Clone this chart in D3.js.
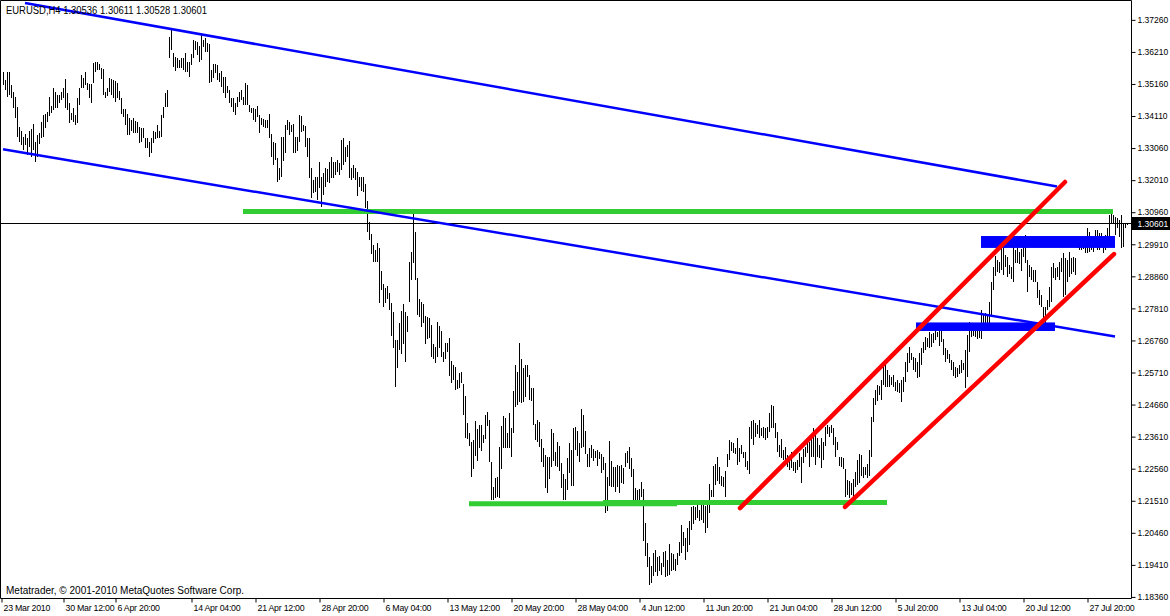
<!DOCTYPE html>
<html>
<head>
<meta charset="utf-8">
<title>EURUSD,H4</title>
<script src="https://d3js.org/d3.v7.min.js"></script>
<style>
  body { margin: 0; background: #fff; }
  svg text { font-family: "Liberation Sans", Arial, sans-serif; }
</style>
</head>
<body>
<div id="chart"></div>
<script>
// H4 bars, high / low (one value per bar, left to right)
var highs = [
1.3555,1.3529,1.3555,1.3555,1.3513,1.3490,1.3473,1.3440,1.3375,1.3362,
1.3342,1.3352,1.3339,1.3362,1.3368,1.3385,1.3326,1.3349,1.3355,1.3391,
1.3414,1.3418,1.3424,1.3473,1.3444,1.3503,1.3490,1.3480,1.3480,1.3490,
1.3503,1.3532,1.3486,1.3454,1.3421,1.3437,1.3414,1.3470,1.3503,1.3545,
1.3536,1.3555,1.3519,1.3516,1.3516,1.3585,1.3588,1.3588,1.3581,1.3568,
1.3565,1.3490,1.3503,1.3536,1.3532,1.3529,1.3526,1.3519,1.3493,1.3470,
1.3434,1.3434,1.3418,1.3404,1.3398,1.3404,1.3395,1.3391,1.3375,1.3372,
1.3372,1.3339,1.3339,1.3326,1.3339,1.3362,1.3359,1.3382,1.3362,1.3414,
1.3440,1.3486,1.3496,1.3670,1.3693,1.3617,1.3604,1.3601,1.3594,1.3601,
1.3601,1.3617,1.3588,1.3588,1.3614,1.3660,1.3657,1.3653,1.3640,1.3676,
1.3660,1.3666,1.3650,1.3647,1.3562,1.3581,1.3581,1.3578,1.3552,1.3558,
1.3539,1.3539,1.3509,1.3496,1.3470,1.3470,1.3454,1.3473,1.3490,1.3496,
1.3473,1.3519,1.3513,1.3447,1.3437,1.3437,1.3434,1.3444,1.3414,1.3404,
1.3401,1.3398,1.3398,1.3418,1.3352,1.3326,1.3323,1.3274,1.3241,1.3342,
1.3342,1.3382,1.3398,1.3391,1.3382,1.3385,1.3342,1.3342,1.3414,1.3411,
1.3382,1.3378,1.3339,1.3339,1.3241,1.3201,1.3211,1.3211,1.3260,1.3211,
1.3224,1.3241,1.3237,1.3260,1.3277,1.3260,1.3260,1.3267,1.3257,1.3332,
1.3339,1.3310,1.3316,1.3329,1.3241,1.3251,1.3241,1.3228,1.3211,1.3211,
1.3211,1.3188,1.3133,1.3064,1.3025,1.2989,1.2972,1.2995,1.2979,1.2903,
1.2861,1.2848,1.2854,1.2831,1.2799,1.2769,1.2677,1.2677,1.2733,1.2772,
1.2795,1.2769,1.2756,1.2933,1.2966,1.3093,1.3031,1.2880,1.2812,1.2802,
1.2795,1.2756,1.2753,1.2750,1.2727,1.2664,1.2655,1.2736,1.2723,1.2707,
1.2638,1.2668,1.2668,1.2684,1.2609,1.2596,1.2589,1.2546,1.2569,1.2573,
1.2533,1.2494,1.2406,1.2373,1.2343,1.2350,1.2412,1.2386,1.2399,1.2399,
1.2366,1.2432,1.2442,1.2415,1.2278,1.2196,1.2225,1.2229,1.2327,1.2396,
1.2429,1.2422,1.2373,1.2438,1.2389,1.2510,1.2595,1.2573,1.2668,1.2615,
1.2586,1.2596,1.2596,1.2563,1.2520,1.2520,1.2402,1.2415,1.2409,1.2353,
1.2324,1.2301,1.2294,1.2294,1.2386,1.2373,1.2311,1.2343,1.2330,1.2275,
1.2239,1.2222,1.2291,1.2340,1.2317,1.2389,1.2393,1.2379,1.2340,1.2452,
1.2432,1.2379,1.2304,1.2324,1.2334,1.2320,1.2314,1.2317,1.2311,1.2304,
1.2294,1.2275,1.2229,1.2347,1.2281,1.2262,1.2262,1.2268,1.2265,1.2268,
1.2258,1.2307,1.2314,1.2327,1.2291,1.2255,1.2193,1.2186,1.2189,1.2212,
1.2189,1.2078,1.2013,1.1967,1.1937,1.1980,1.1990,1.1967,1.1970,1.1947,
1.1983,1.1986,1.1957,1.2009,1.1980,1.1977,1.1960,1.1980,1.2016,1.2072,
1.2049,1.2029,1.2062,1.2085,1.2131,1.2134,1.2131,1.2137,1.2121,1.2137,
1.2144,1.2134,1.2147,1.2206,1.2186,1.2265,1.2271,1.2294,1.2262,1.2232,
1.2229,1.2248,1.2304,1.2350,1.2343,1.2340,1.2324,1.2356,1.2324,1.2334,
1.2311,1.2311,1.2281,1.2393,1.2412,1.2415,1.2406,1.2399,1.2415,1.2389,
1.2393,1.2389,1.2393,1.2438,1.2465,1.2461,1.2406,1.2376,1.2334,1.2353,
1.2317,1.2327,1.2301,1.2294,1.2311,1.2278,1.2278,1.2284,1.2307,1.2294,
1.2320,1.2327,1.2347,1.2343,1.2360,1.2389,1.2366,1.2356,1.2334,1.2356,
1.2343,1.2393,1.2399,1.2393,1.2399,1.2389,1.2360,1.2343,1.2294,1.2294,
1.2291,1.2255,1.2219,1.2216,1.2209,1.2222,1.2245,1.2284,1.2304,1.2301,
1.2262,1.2262,1.2271,1.2317,1.2425,1.2487,1.2514,1.2530,1.2527,1.2546,
1.2589,1.2605,1.2579,1.2563,1.2556,1.2563,1.2540,1.2546,1.2537,1.2546,
1.2556,1.2605,1.2635,1.2655,1.2635,1.2622,1.2618,1.2605,1.2635,1.2651,
1.2671,1.2687,1.2684,1.2704,1.2697,1.2700,1.2710,1.2704,1.2707,1.2720,
1.2681,1.2651,1.2645,1.2632,1.2612,1.2605,1.2589,1.2586,1.2596,1.2612,
1.2602,1.2645,1.2694,1.2736,1.2733,1.2733,1.2733,1.2733,1.2733,1.2776,
1.2759,1.2766,1.2763,1.2802,1.2867,1.2917,1.2953,1.2939,1.2933,1.2982,
1.2982,1.2956,1.2949,1.2923,1.2917,1.2989,1.2972,1.2979,1.2966,1.2976,
1.2995,1.3021,1.2939,1.2923,1.2917,1.2907,1.2907,1.2867,1.2841,1.2825,
1.2786,1.2786,1.2808,1.2851,1.2917,1.2930,1.2913,1.2917,1.2933,1.2946,
1.2962,1.2946,1.2939,1.2966,1.2946,1.2949,1.2946,1.3005,1.3005,1.3012,
1.3015,1.3012,1.3044,1.3031,1.3015,1.3012,1.3038,1.3038,1.3028,1.3028,
1.3015,1.3021,1.3044,1.3087,1.3093,1.3087,1.3080,1.3077,1.3070,1.3087,
1.3061,1.3061,1.30611
];
var lows = [
1.3513,1.3496,1.3473,1.3480,1.3470,1.3437,1.3404,1.3342,1.3326,1.3316,
1.3300,1.3316,1.3283,1.3310,1.3277,1.3300,1.3260,1.3277,1.3319,1.3339,
1.3342,1.3372,1.3391,1.3411,1.3421,1.3431,1.3437,1.3437,1.3454,1.3463,
1.3470,1.3437,1.3431,1.3388,1.3398,1.3391,1.3382,1.3388,1.3447,1.3503,
1.3503,1.3513,1.3496,1.3470,1.3454,1.3519,1.3555,1.3562,1.3562,1.3532,
1.3480,1.3470,1.3477,1.3490,1.3480,1.3470,1.3457,1.3470,1.3463,1.3418,
1.3408,1.3382,1.3349,1.3349,1.3362,1.3355,1.3355,1.3355,1.3323,1.3326,
1.3339,1.3306,1.3306,1.3277,1.3290,1.3323,1.3336,1.3339,1.3339,1.3342,
1.3404,1.3440,1.3440,1.3601,1.3627,1.3572,1.3558,1.3568,1.3568,1.3568,
1.3562,1.3555,1.3555,1.3539,1.3578,1.3601,1.3627,1.3611,1.3588,1.3594,
1.3637,1.3621,1.3621,1.3519,1.3522,1.3536,1.3552,1.3529,1.3522,1.3506,
1.3486,1.3470,1.3486,1.3454,1.3440,1.3424,1.3414,1.3440,1.3457,1.3463,
1.3447,1.3447,1.3447,1.3424,1.3421,1.3398,1.3391,1.3408,1.3355,1.3382,
1.3375,1.3372,1.3372,1.3339,1.3277,1.3251,1.3267,1.3195,1.3201,1.3211,
1.3264,1.3290,1.3365,1.3349,1.3359,1.3290,1.3290,1.3296,1.3326,1.3359,
1.3362,1.3310,1.3277,1.3208,1.3143,1.3159,1.3162,1.3136,1.3175,1.3113,
1.3152,1.3179,1.3195,1.3192,1.3208,1.3208,1.3218,1.3228,1.3218,1.3234,
1.3251,1.3260,1.3277,1.3208,1.3201,1.3208,1.3201,1.3149,1.3179,1.3165,
1.3162,1.3110,1.3031,1.3005,1.2959,1.2933,1.2933,1.2933,1.2799,1.2841,
1.2786,1.2799,1.2812,1.2776,1.2691,1.2651,1.2524,1.2586,1.2645,1.2632,
1.2664,1.2605,1.2704,1.2802,1.2874,1.2930,1.2874,1.2759,1.2753,1.2720,
1.2733,1.2664,1.2681,1.2684,1.2622,1.2615,1.2602,1.2622,1.2651,1.2622,
1.2605,1.2615,1.2638,1.2560,1.2537,1.2546,1.2514,1.2517,1.2520,1.2537,
1.2432,1.2357,1.2353,1.2330,1.2229,1.2255,1.2298,1.2281,1.2324,1.2314,
1.2340,1.2353,1.2396,1.2278,1.2153,1.2153,1.2160,1.2163,1.2160,1.2255,
1.2324,1.2324,1.2324,1.2324,1.2294,1.2373,1.2458,1.2465,1.2474,1.2471,
1.2474,1.2491,1.2556,1.2481,1.2478,1.2399,1.2350,1.2343,1.2327,1.2278,
1.2262,1.2193,1.2176,1.2222,1.2262,1.2281,1.2265,1.2262,1.2248,1.2193,
1.2153,1.2153,1.2186,1.2242,1.2199,1.2199,1.2317,1.2298,1.2278,1.2324,
1.2327,1.2304,1.2262,1.2262,1.2291,1.2281,1.2291,1.2265,1.2288,1.2242,
1.2252,1.2111,1.2117,1.2199,1.2196,1.2196,1.2180,1.2196,1.2176,1.2209,
1.2206,1.2262,1.2275,1.2255,1.2229,1.2153,1.2153,1.2153,1.2153,1.2163,
1.2019,1.1970,1.1934,1.1875,1.1882,1.1905,1.1918,1.1905,1.1921,1.1908,
1.1934,1.1901,1.1905,1.1908,1.1921,1.1924,1.1921,1.1941,1.1970,1.1980,
1.2003,1.1957,1.1983,1.2006,1.2055,1.2075,1.2088,1.2095,1.2085,1.2088,
1.2078,1.2045,1.2062,1.2111,1.2163,1.2163,1.2203,1.2216,1.2206,1.2199,
1.2196,1.2163,1.2262,1.2284,1.2314,1.2307,1.2304,1.2268,1.2278,1.2304,
1.2291,1.2262,1.2252,1.2239,1.2353,1.2334,1.2360,1.2370,1.2356,1.2363,
1.2356,1.2350,1.2356,1.2376,1.2389,1.2389,1.2356,1.2311,1.2294,1.2291,
1.2284,1.2271,1.2262,1.2252,1.2258,1.2248,1.2242,1.2252,1.2262,1.2209,
1.2275,1.2294,1.2307,1.2262,1.2294,1.2294,1.2268,1.2294,1.2291,1.2258,
1.2284,1.2330,1.2370,1.2360,1.2373,1.2334,1.2294,1.2317,1.2265,1.2262,
1.2255,1.2163,1.2170,1.2160,1.2170,1.2163,1.2196,1.2203,1.2209,1.2232,
1.2225,1.2235,1.2225,1.2232,1.2294,1.2409,1.2465,1.2478,1.2497,1.2481,
1.2530,1.2524,1.2524,1.2524,1.2530,1.2524,1.2510,1.2507,1.2504,1.2474,
1.2507,1.2540,1.2573,1.2602,1.2612,1.2579,1.2573,1.2553,1.2556,1.2596,
1.2635,1.2645,1.2655,1.2651,1.2655,1.2668,1.2677,1.2687,1.2658,1.2671,
1.2628,1.2605,1.2615,1.2602,1.2579,1.2560,1.2553,1.2556,1.2566,1.2569,
1.2579,1.2520,1.2556,1.2638,1.2687,1.2691,1.2687,1.2681,1.2684,1.2681,
1.2723,1.2720,1.2713,1.2717,1.2753,1.2841,1.2887,1.2900,1.2897,1.2907,
1.2890,1.2917,1.2884,1.2894,1.2877,1.2867,1.2930,1.2930,1.2926,1.2903,
1.2949,1.2930,1.2835,1.2884,1.2874,1.2867,1.2867,1.2815,1.2792,1.2786,
1.2750,1.2733,1.2776,1.2786,1.2802,1.2880,1.2874,1.2884,1.2874,1.2900,
1.2818,1.2825,1.2867,1.2884,1.2894,1.2900,1.2890,1.2979,1.2972,1.2972,
1.2976,1.2962,1.2962,1.2966,1.2972,1.2966,1.2982,1.2972,1.2972,1.2982,
1.2962,1.2972,1.2995,1.3015,1.3061,1.3061,1.3021,1.3044,1.3015,1.2979,
1.2982,1.3044,1.30528
];

// price scale labels
var priceTicks = [1.37260,1.36210,1.35160,1.34110,1.33060,1.32010,1.30960,1.29910,1.28860,
  1.27810,1.26760,1.25710,1.24660,1.23610,1.22560,1.21510,1.20460,1.19410,1.18360];

// time scale labels and the bar they sit on
var timeLabels = ["23 Mar 2010","30 Mar 12:00","6 Apr 20:00","14 Apr 04:00","21 Apr 12:00",
  "28 Apr 20:00","6 May 04:00","13 May 12:00","20 May 20:00","28 May 04:00","4 Jun 12:00",
  "11 Jun 20:00","21 Jun 04:00","28 Jun 12:00","5 Jul 20:00","13 Jul 04:00","20 Jul 12:00",
  "27 Jul 20:00"];
var timeBars = [0,31,57,95,127,159,191,223,255,287,319,351,383,415,447,479,511,543];

var symbol = "EURUSD,H4";
var lastBar = [1.30536, 1.30611, 1.30528, 1.30601]; // open high low close

// drawn objects: [bar1, price1, bar2, price2]
var blueLines = [[11, 1.3781, 527, 1.3180], [0, 1.3302, 556, 1.2689]];
var greenLines = [[120, 1.3098, 555, 1.3098], [233, 1.2141, 337, 1.2141], [300, 1.2145, 442, 1.2145]];
var redLines = [[368.5, 1.2127, 531, 1.3195], [421, 1.2131, 555.5, 1.2959]];
var blueBoxes = [[489, 1.3018, 556, 1.2979], [456.5, 1.2735, 526, 1.2707]];

var W = 1170, H = 616;
var plotR = 1131, plotB = 598;
var fmt = d3.format(".5f");

var svg = d3.select("#chart").append("svg")
  .attr("width", W).attr("height", H)
  .style("display", "block");

var x = d3.scaleLinear().domain([-1.5, 564]).range([0, plotR]);
var y = d3.scaleLinear().domain([1.18325, 1.3791]).range([plotB, 0]);

var plot = svg.append("g");

// current price line
plot.append("line")
  .attr("x1", 0).attr("x2", plotR)
  .attr("y1", Math.round(y(lastBar[3])) + 0.5).attr("y2", Math.round(y(lastBar[3])) + 0.5)
  .attr("stroke", "#000").attr("stroke-width", 1);

// bars
var bars = highs.map(function(h, i) { return {i: i, h: h, l: lows[i]}; });
plot.selectAll("line.bar")
  .data(bars)
  .enter().append("line")
    .attr("class", "bar")
    .attr("x1", function(d) { return Math.round(x(d.i)) + 0.5; })
    .attr("x2", function(d) { return Math.round(x(d.i)) + 0.5; })
    .attr("y1", function(d) { return Math.round(y(d.h)); })
    .attr("y2", function(d) { return Math.max(Math.round(y(d.l)), Math.round(y(d.h)) + 1); })
    .attr("stroke", "#000")
    .attr("stroke-width", 1)
    .attr("shape-rendering", "crispEdges");

// objects
function drawLines(data, color, width, cap) {
  plot.selectAll(null)
    .data(data)
    .enter().append("line")
      .attr("x1", function(d) { return x(d[0]); })
      .attr("y1", function(d) { return y(d[1]); })
      .attr("x2", function(d) { return x(d[2]); })
      .attr("y2", function(d) { return y(d[3]); })
      .attr("stroke", color)
      .attr("stroke-width", width)
      .attr("stroke-linecap", cap);
}
drawLines(greenLines, "#32cd32", 5, "butt");
drawLines(blueLines, "#0000ff", 2.5, "butt");

plot.selectAll("rect.box")
  .data(blueBoxes)
  .enter().append("rect")
    .attr("class", "box")
    .attr("x", function(d) { return x(d[0]); })
    .attr("y", function(d) { return y(d[1]); })
    .attr("width", function(d) { return x(d[2]) - x(d[0]); })
    .attr("height", function(d) { return y(d[3]) - y(d[1]); })
    .attr("fill", "#0000ff");

drawLines(redLines, "#ff0000", 4.5, "round");

// frame
svg.append("path")
  .attr("d", "M0.5," + (plotB + 0.5) + "V0.5H" + (plotR + 0.5) + "V" + (plotB + 0.5) + "H0.5")
  .attr("fill", "none").attr("stroke", "#000").attr("stroke-width", 1);

// price axis
var yAxis = d3.axisRight(y)
  .tickValues(priceTicks)
  .tickSize(4)
  .tickFormat(fmt);
var ya = svg.append("g")
  .attr("transform", "translate(" + (plotR + 0.5) + ",0)")
  .call(yAxis);
ya.select(".domain").remove();
ya.selectAll("text")
  .attr("font-size", "8.5px").attr("fill", "#000").attr("x", 6)
  .style("font-family", "'Liberation Sans', Arial, sans-serif");

// current price tag
var cy = Math.round(y(lastBar[3]));
svg.append("rect")
  .attr("x", plotR + 1).attr("y", cy - 6)
  .attr("width", W - plotR - 1).attr("height", 13)
  .attr("fill", "#000");
svg.append("text")
  .attr("x", plotR + 6.5).attr("y", cy + 3.5)
  .attr("font-size", "8.5px").attr("fill", "#fff")
  .text(fmt(lastBar[3]));

// time axis
var xAxis = d3.axisBottom(x)
  .tickValues(timeBars)
  .tickSize(4)
  .tickFormat(function(d, i) { return timeLabels[i]; });
var xa = svg.append("g")
  .attr("transform", "translate(0," + (plotB + 0.5) + ")")
  .call(xAxis);
xa.select(".domain").remove();
xa.selectAll(".tick line").attr("transform", "translate(-1.5,0)");
xa.selectAll("text")
  .attr("text-anchor", "start")
  .attr("font-size", "8.8px").attr("fill", "#000")
  .attr("letter-spacing", "-0.25px")
  .attr("x", 0).attr("y", 6)
  .style("font-family", "'Liberation Sans', Arial, sans-serif");

// header and footer texts
svg.append("text")
  .attr("x", 6).attr("y", 14)
  .attr("font-size", "10px")
  .attr("textLength", 201).attr("lengthAdjust", "spacingAndGlyphs")
  .text(symbol + " " + lastBar.map(fmt).join(" "));

svg.append("text")
  .attr("x", 6).attr("y", 594)
  .attr("font-size", "10px")
  .text("Metatrader, \u00a9 2001-2010 MetaQuotes Software Corp.");
</script>
</body>
</html>
